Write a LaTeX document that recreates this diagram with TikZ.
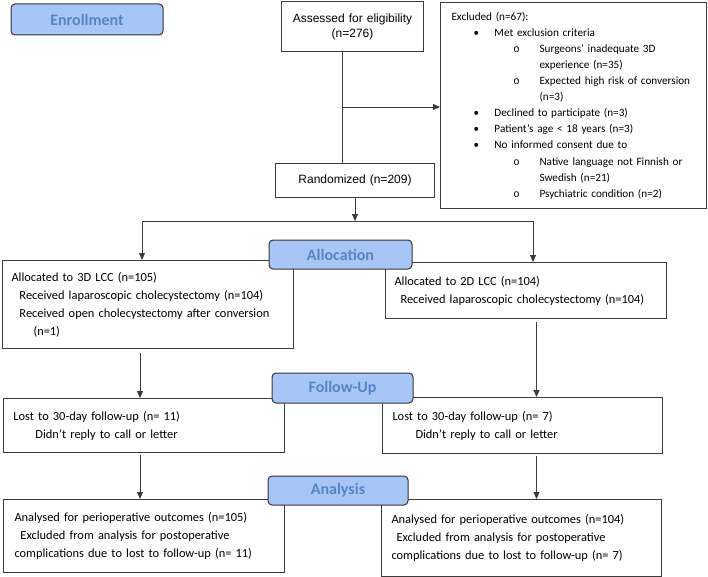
\documentclass[tikz,border=0pt]{standalone}
\usepackage{fontspec}
\setmainfont{Carlito}
\newfontfamily\arialfont{Liberation Sans}
\usetikzlibrary{arrows.meta}

\definecolor{phasefill}{RGB}{167,197,245}
\definecolor{phasetext}{RGB}{88,133,196}
\definecolor{edgegray}{RGB}{60,60,60}

% list levels of the exclusion box
\newcommand{\exclA}[1]{\hspace*{22pt}\makebox[21pt][l]{\textbullet}#1}
\newcommand{\exclB}[1]{\hspace*{62pt}\makebox[26pt][l]{\arialfont\fontsize{10.5}{10}\selectfont o}#1}
\newcommand{\exclC}[1]{\hspace*{88pt}#1}

\tikzset{
  box/.style={draw=edgegray, line width=1pt, anchor=north west, align=left,
    inner xsep=9pt, inner ysep=0pt, font=\fontsize{12.4}{18}\selectfont},
  phase/.style={draw=black!80, fill=phasefill, text=phasetext, line width=1pt,
    rounded corners=4pt, inner sep=0pt, font=\bfseries\fontsize{16}{19}\selectfont},
  link/.style={draw=edgegray, line width=0.9pt},
  flow/.style={link, -{Triangle[length=7pt,width=6pt]}}
}

\begin{document}
\begin{tikzpicture}[x=1pt, y=-1pt]
\useasboundingbox (0,0) rectangle (708,577);

% enrollment
\node[box, align=center, text width=124pt, minimum height=50pt,
  font=\arialfont\fontsize{12}{15}\selectfont] (assess) at (281,1)
  {Assessed for eligibility\\(n=276)};
\node[box, align=center, text width=141pt, minimum height=34pt,
  font=\arialfont\fontsize{12}{15}\selectfont] (rand) at (275,163)
  {Randomized (n=209)};
\node[box, text width=244pt, inner xsep=11pt, minimum height=206pt,
  font=\fontsize{11.2}{16.1}\selectfont] (excl) at (440,2)
  {Excluded (n=67):\\
   \exclA{Met exclusion criteria}\\
   \exclB{Surgeons’ inadequate 3D}\\
   \exclC{experience (n=35)}\\
   \exclB{Expected high risk of conversion}\\
   \exclC{(n=3)}\\
   \exclA{Declined to participate (n=3)}\\
   \exclA{Patient’s age < 18 years (n=3)}\\
   \exclA{No informed consent due to}\\
   \exclB{Native language not Finnish or}\\
   \exclC{Swedish (n=21)}\\
   \exclB{Psychiatric condition (n=2)}};

% allocation
\node[box, text width=273pt, minimum height=88pt] (alloc3d) at (2,260)
  {Allocated to 3D LCC (n=105)\\
   \hspace*{8pt}Received laparoscopic cholecystectomy (n=104)\\
   \hspace*{8pt}Received open cholecystectomy after conversion\\
   \hspace*{22pt}(n=1)};
\node[box, text width=263pt, minimum height=56pt] (alloc2d) at (385,262)
  {Allocated to 2D LCC (n=104)\\
   \hspace*{6pt}Received laparoscopic cholecystectomy (n=104)};

% follow-up
\node[box, text width=263pt, minimum height=54pt] (fu3d) at (3,398)
  {\hspace*{1pt}Lost to 30-day follow-up (n= 11)\\
   \hspace*{23pt}Didn’t reply to call or letter};
\node[box, text width=262pt, minimum height=56pt] (fu2d) at (382,397)
  {\hspace*{1pt}Lost to 30-day follow-up (n= 7)\\
   \hspace*{24pt}Didn’t reply to call or letter};

% analysis
\node[box, text width=263pt, minimum height=73pt] (an3d) at (3,499)
  {\hspace*{2pt}Analysed for perioperative outcomes (n=105)\\
   \hspace*{8pt}Excluded from analysis for postoperative\\
   \hspace*{2pt}complications due to lost to follow-up (n= 11)};
\node[box, text width=262pt, minimum height=77pt] (an2d) at (381,499)
  {\hspace*{1pt}Analysed for perioperative outcomes (n=104)\\
   \hspace*{6pt}Excluded from analysis for postoperative\\
   \hspace*{1pt}complications due to lost to follow-up (n= 7)};

% connectors
\coordinate (exclfork) at (342,107);
\coordinate (splitL) at (142,221);
\coordinate (splitR) at (533,221);
\draw[link] ([xshift=-10pt]assess.south) -- ([xshift=-10pt]assess.south |- rand.north);
\draw[flow] (exclfork) -- (exclfork -| excl.west);
\draw[flow] (rand.south) -- (rand.south |- splitL);
\draw[link] (splitL) -- (splitR);
\draw[flow] (splitL) -- (splitL |- alloc3d.north);
\draw[flow] (splitR) -- (splitR |- alloc2d.north);
\draw[flow, shorten <=4pt] ([xshift=-4pt]fu3d.north |- alloc3d.south) -- ([xshift=-4pt]fu3d.north);
\draw[flow, shorten <=3pt] ([xshift=14pt]fu2d.north |- alloc2d.south) -- ([xshift=14pt]fu2d.north);
\draw[flow, shorten <=2pt] ([xshift=-4pt]an3d.north |- fu3d.south) -- ([xshift=-4pt]an3d.north);
\draw[flow, shorten <=2pt] ([xshift=15pt]an2d.north |- fu2d.south) -- ([xshift=15pt]an2d.north);

% phase labels
\node[phase, minimum width=152pt, minimum height=31pt] (enroll) at (87,19.5) {Enrollment};
\node[phase, minimum width=143pt, minimum height=29pt] (alloc) at (340.5,254.5) {Allocation};
\node[phase, minimum width=141pt, minimum height=30pt] (follow) at (342.5,388) {Follow-Up};
\node[phase, minimum width=140pt, minimum height=29pt] (analysis) at (338,490.5) {Analysis};
\end{tikzpicture}
\end{document}
